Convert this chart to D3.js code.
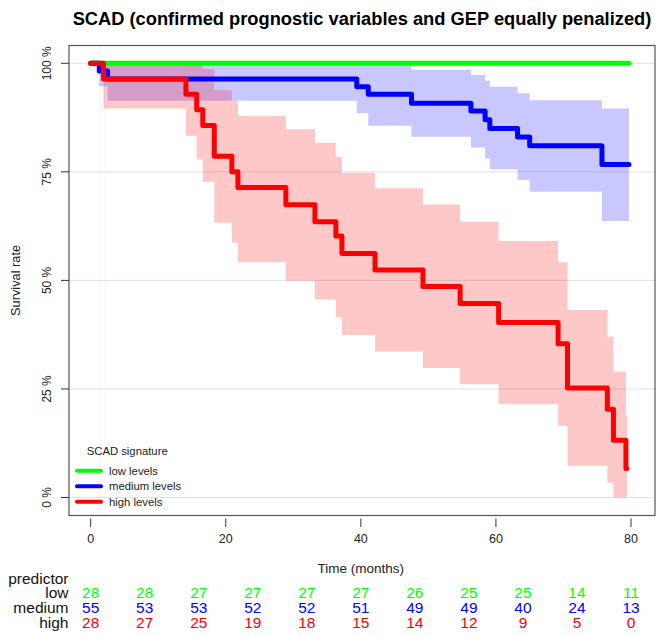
<!DOCTYPE html>
<html>
<head>
<meta charset="utf-8">
<script src="https://cdn.jsdelivr.net/npm/d3@7/dist/d3.min.js"></script>
<style>
  html, body { margin: 0; padding: 0; background: #fff; }
  svg { display: block; font-family: "Liberation Sans", Arial, Helvetica, sans-serif; }
</style>
</head>
<body>
<svg id="chart" width="659" height="636"></svg>
<script>
// Kaplan-Meier survival by SCAD signature level, with pointwise confidence bands.

// low levels: no events over follow-up
const lowTime  = [0];
const lowSurv  = [1];
const lowEnd   = 79.7;

// medium levels
const medTime  = [0, 1.27, 2.5, 39.4, 41.1, 47.5, 56.3, 58.4, 59.1, 63.2, 65.0, 75.7];
const medSurv  = [1, 0.982, 0.964, 0.946, 0.929, 0.908, 0.890, 0.870, 0.850, 0.830, 0.810, 0.767];
const medLower = [1, 0.947, 0.914, 0.885, 0.856, 0.831, 0.806, 0.781, 0.756, 0.731, 0.704, 0.637];
const medUpper = [1, 1, 1, 1, 1, 0.985, 0.973, 0.960, 0.946, 0.931, 0.915, 0.896];
const medEnd   = 79.7;

// high levels
const highTime  = [0, 1.9, 14.1, 15.7, 16.6, 18.3, 20.9, 21.8, 28.9, 33.2, 36.3, 37.2, 42.1, 49.2, 54.7, 60.4, 69.2, 70.6, 76.5, 77.4, 79.25];
const highSurv  = [1, 0.964, 0.929, 0.893, 0.857, 0.786, 0.750, 0.714, 0.674, 0.635, 0.602, 0.562, 0.524, 0.486, 0.447, 0.403, 0.354, 0.252, 0.203, 0.132, 0.067];
const highLower = [1, 0.896, 0.833, 0.779, 0.727, 0.633, 0.587, 0.542, 0.499, 0.456, 0.415, 0.374, 0.336, 0.298, 0.261, 0.215, 0.165, 0.073, 0.034, 0, 0];
const highUpper = [1, 1, 1, 1, 0.987, 0.938, 0.914, 0.879, 0.848, 0.817, 0.784, 0.748, 0.712, 0.675, 0.635, 0.591, 0.542, 0.432, 0.370, 0.290, 0.19];
const highEnd   = 79.4;

// number at risk
const riskTimes  = [0, 8, 16, 24, 32, 40, 48, 56, 64, 72, 80];
const riskLow    = [28, 28, 27, 27, 27, 27, 26, 25, 25, 14, 11];
const riskMedium = [55, 53, 53, 52, 52, 51, 49, 49, 40, 24, 13];
const riskHigh   = [28, 27, 25, 19, 18, 15, 14, 12, 9, 5, 0];

const xTicks = [0, 20, 40, 60, 80];
const yTicks = [0, 0.25, 0.5, 0.75, 1];

const groupNames  = ["low levels", "medium levels", "high levels"];
const rowLabels   = ["low", "medium", "high"];
const groupColors = ["#00ff00", "#0000ff", "#ff0000"];

const svg = d3.select("#chart");

const box = { left: 69, right: 655, top: 45.5, bottom: 515.5 };
const x = d3.scaleLinear().domain([0, 80]).range([90.7, 631]);
const y = d3.scaleLinear().domain([0, 1]).range([497.5, 63.3]);

// title
svg.append("text")
  .attr("x", 362).attr("y", 24.5)
  .attr("text-anchor", "middle")
  .attr("font-size", 18.3).attr("font-weight", "bold")
  .text("SCAD (confirmed prognostic variables and GEP equally penalized)");

// horizontal grid
svg.append("g").selectAll("line").data(yTicks).join("line")
  .attr("x1", box.left).attr("x2", box.right)
  .attr("y1", d => y(d)).attr("y2", d => y(d))
  .attr("stroke", "#e2e2e2").attr("stroke-width", 1);

// build step series
function steps(times, vals, end) {
  const pts = times.map((t, i) => ({ t, v: vals[i] }));
  pts.push({ t: end, v: vals[vals.length - 1] });
  return pts;
}
function bandPts(times, lo, hi, end) {
  const pts = times.map((t, i) => ({ t, lo: lo[i], hi: hi[i] }));
  pts.push({ t: end, lo: lo[lo.length - 1], hi: hi[hi.length - 1] });
  return pts;
}

const area = d3.area().curve(d3.curveStepAfter)
  .x(d => x(d.t)).y0(d => y(d.lo)).y1(d => y(d.hi));
const line = d3.line().curve(d3.curveStepAfter)
  .x(d => x(d.t)).y(d => y(d.v));

const plot = svg.append("g");

// confidence bands
plot.append("path").datum(bandPts(medTime, medLower, medUpper, medEnd))
  .attr("d", area).attr("fill", "#0000ff").attr("fill-opacity", 0.215);
plot.append("path").datum(bandPts(highTime, highLower, highUpper, highEnd))
  .attr("d", area).attr("fill", "#ff0000").attr("fill-opacity", 0.215);

// faint band edges at the first event of each band
[[medTime[1], "#0000ff"], [highTime[1], "#ff0000"]].forEach(([t, c]) => {
  plot.append("line")
    .attr("x1", x(t) + 1).attr("x2", x(t) + 1)
    .attr("y1", box.top).attr("y2", box.bottom)
    .attr("stroke", c).attr("stroke-opacity", 0.035).attr("stroke-width", 1.5);
});

// survival curves
const curves = [
  steps(lowTime, lowSurv, lowEnd),
  steps(medTime, medSurv, medEnd),
  steps(highTime, highSurv, highEnd)
];
curves.forEach((pts, i) => {
  plot.append("path").datum(pts)
    .attr("d", line).attr("fill", "none")
    .attr("stroke", groupColors[i]).attr("stroke-width", 5)
    .attr("stroke-linecap", "round").attr("stroke-linejoin", "round");
});

// plot frame
svg.append("rect")
  .attr("x", box.left).attr("y", box.top)
  .attr("width", box.right - box.left).attr("height", box.bottom - box.top)
  .attr("fill", "none").attr("stroke", "#555").attr("stroke-width", 1.2);

// y axis
const yAxis = svg.append("g");
yAxis.selectAll("line").data(yTicks).join("line")
  .attr("x1", 61).attr("x2", box.left)
  .attr("y1", d => y(d)).attr("y2", d => y(d))
  .attr("stroke", "#333").attr("stroke-width", 1);
yAxis.selectAll("text").data(yTicks).join("text")
  .attr("transform", d => `translate(47,${y(d)}) rotate(-90)`)
  .attr("text-anchor", "middle").attr("dominant-baseline", "central")
  .attr("font-size", 12).attr("fill", "#222")
  .text(d => `${Math.round(d * 100)} %`);
svg.append("text")
  .attr("transform", `translate(15,${y(0.5)}) rotate(-90)`)
  .attr("text-anchor", "middle").attr("dominant-baseline", "central")
  .attr("font-size", 12.8).attr("fill", "#222")
  .text("Survival rate");

// x axis
const xAxis = svg.append("g");
xAxis.selectAll("line").data(xTicks).join("line")
  .attr("x1", d => x(d)).attr("x2", d => x(d))
  .attr("y1", 518.5).attr("y2", 527)
  .attr("stroke", "#333").attr("stroke-width", 1);
xAxis.selectAll("text").data(xTicks).join("text")
  .attr("x", d => x(d)).attr("y", 543)
  .attr("text-anchor", "middle")
  .attr("font-size", 12.5).attr("fill", "#222")
  .text(d => d);
svg.append("text")
  .attr("x", (x(0) + x(80)) / 2).attr("y", 573)
  .attr("text-anchor", "middle")
  .attr("font-size", 13.5).attr("fill", "#222")
  .text("Time (months)");

// legend
const legend = svg.append("g");
legend.append("text")
  .attr("x", 86.7).attr("y", 455)
  .attr("font-size", 11.3).attr("fill", "#222")
  .text("SCAD signature");
groupNames.forEach((name, i) => {
  const ly = 470.7 + i * 15.5;
  legend.append("line")
    .attr("x1", 77).attr("x2", 101).attr("y1", ly).attr("y2", ly)
    .attr("stroke", groupColors[i]).attr("stroke-width", 4)
    .attr("stroke-linecap", "round");
  legend.append("text")
    .attr("x", 109).attr("y", ly + 4)
    .attr("font-size", 11.3).attr("fill", "#222")
    .text(name);
});

// number at risk table
const table = svg.append("g").attr("font-size", 15.5);
table.append("text")
  .attr("x", 68.5).attr("y", 583.5)
  .attr("text-anchor", "end").attr("fill", "#111")
  .text("predictor");
const riskRows = [riskLow, riskMedium, riskHigh];
riskRows.forEach((row, i) => {
  const ry = 597.5 + i * 15.2;
  table.append("text")
    .attr("x", 68.5).attr("y", ry)
    .attr("text-anchor", "end").attr("fill", "#111")
    .text(rowLabels[i]);
  table.selectAll(null).data(row).join("text")
    .attr("x", (d, j) => x(riskTimes[j])).attr("y", ry)
    .attr("text-anchor", "middle").attr("fill", groupColors[i])
    .text(d => d);
});
</script>
</body>
</html>
